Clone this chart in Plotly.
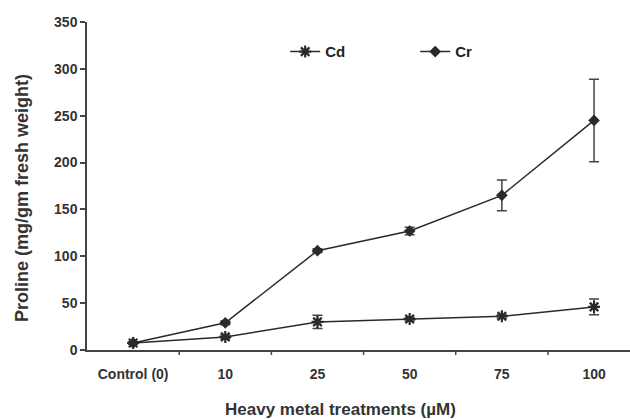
import plotly.graph_objects as go

categories = ["Control (0)", "10", "25", "50", "75", "100"]
cd_values = [7.5, 14, 30, 33, 36, 46]
cd_errors = [1, 2, 7, 2, 2, 8.5]
cr_values = [7.5, 29, 106, 127, 165, 245]
cr_errors = [1, 2, 2, 4, 16.5, 44]
y_ticks = [0, 50, 100, 150, 200, 250, 300, 350]

x_idx = list(range(len(categories)))
ink = "#2a2a2a"
font_family = "Liberation Sans, Arial, sans-serif"

fig = go.Figure()
fig.add_trace(go.Scatter(
    x=x_idx, y=cd_values, name="<b>Cd</b>", mode="lines+markers",
    line=dict(color=ink, width=1.5),
    marker=dict(symbol="asterisk-open", size=10, color=ink, line=dict(width=2.2, color=ink)),
    error_y=dict(type="data", array=cd_errors, color="#444", thickness=1.5, width=5),
))
fig.add_trace(go.Scatter(
    x=x_idx, y=cr_values, name="<b>Cr</b>", mode="lines+markers",
    line=dict(color=ink, width=1.5),
    marker=dict(symbol="diamond", size=9, color=ink),
    error_y=dict(type="data", array=cr_errors, color="#444", thickness=1.5, width=5),
))

fig.update_layout(
    width=630, height=419,
    margin=dict(l=87, r=0, t=22, b=69),
    plot_bgcolor="white", paper_bgcolor="white",
    font=dict(family=font_family, color="#333", size=14),
    showlegend=True,
    legend=dict(
        orientation="h", x=0.365, y=0.909, xanchor="left", yanchor="middle",
        bgcolor="rgba(0,0,0,0)", font=dict(size=15, color="#222", family=font_family),
        entrywidth=85, entrywidthmode="pixels",
    ),
    xaxis=dict(
        range=[-0.5, 5.39], tickmode="array", tickvals=x_idx, ticktext=[f"<b>{c}</b>" for c in categories],
        showline=True, linecolor="#444", linewidth=1.5,
        ticks="", showgrid=False, zeroline=False, ticklabelstandoff=10,
        tickfont=dict(size=14, color="#333"),
    ),
    yaxis=dict(
        range=[0, 350], tickmode="array", tickvals=y_ticks, ticktext=[f"<b>{v}</b>" for v in y_ticks],
        showline=True, linecolor="#444", linewidth=1.5,
        ticks="outside", ticklen=5, tickcolor="#444", tickwidth=1.5,
        showgrid=False, zeroline=False,
        tickfont=dict(size=14, color="#333"),
    ),
    annotations=[
        dict(text="<b>Heavy metal treatments (µM)</b>", xref="paper", yref="paper",
             x=(340 - 87) / 543, y=(350 - 409) / 328, xanchor="center", yanchor="middle",
             showarrow=False, font=dict(size=17, color="#333")),
        dict(text="<b>Proline (mg/gm fresh weight)</b>", xref="paper", yref="paper",
             x=(22 - 87) / 543, y=(350 - 198) / 328, xanchor="center", yanchor="middle",
             textangle=-90, showarrow=False, font=dict(size=18, color="#333")),
    ],
)

# category boundary tick marks on the x axis
for b in [0.5, 1.5, 2.5, 3.5, 4.5]:
    fig.add_shape(type="line", xref="x", yref="paper", x0=b, x1=b, y0=0, y1=-0.015,
                  line=dict(color="#444", width=1.5))

fig.write_html("out.html")
